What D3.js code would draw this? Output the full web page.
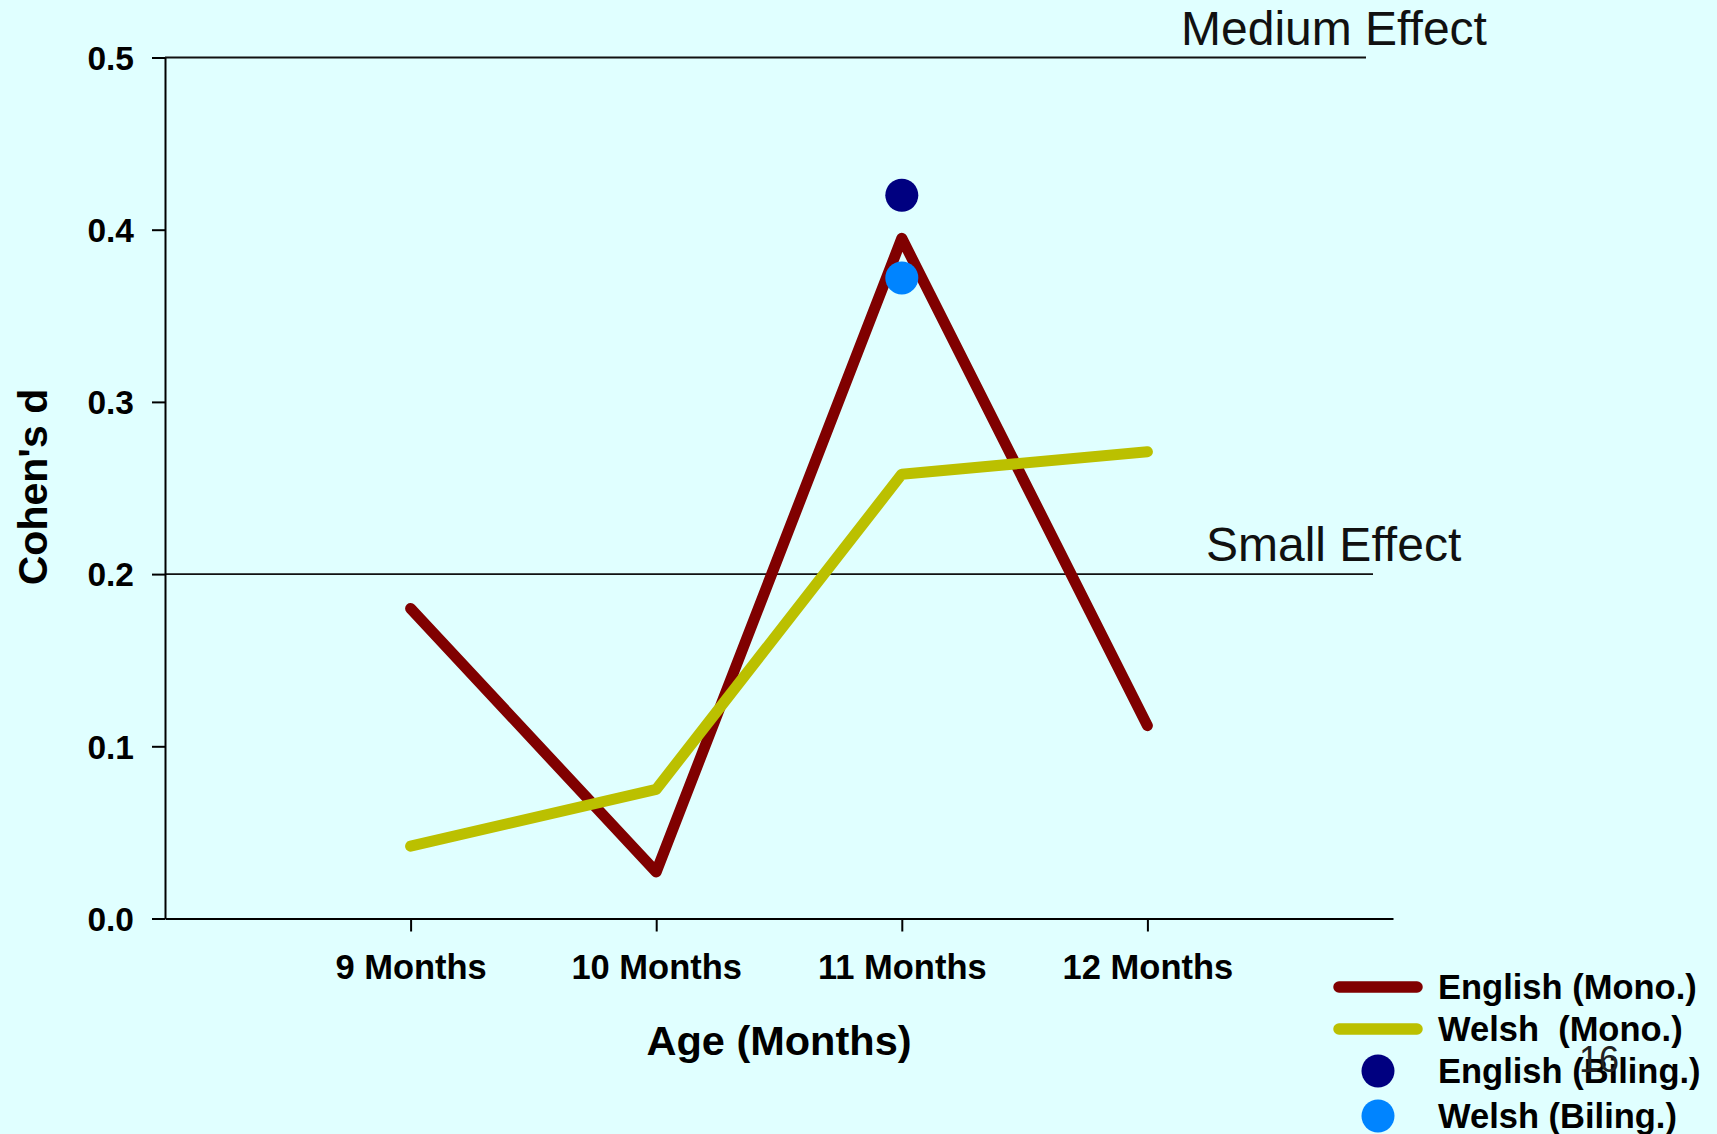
<!DOCTYPE html>
<html>
<head>
<meta charset="utf-8">
<script src="https://cdn.jsdelivr.net/npm/d3@7"></script>
<style>
  html, body { margin: 0; padding: 0; background: #E0FFFF; }
  svg { display: block; font-family: "Liberation Sans", Arial, Helvetica, sans-serif; }
  text { white-space: pre; }
</style>
</head>
<body>
<svg id="chart" width="1717" height="1134"></svg>
<script>
// Age groups on the x axis
const months = ["9 Months", "10 Months", "11 Months", "12 Months"];
const monthNumbers = [9, 10, 11, 12];

// Cohen's d per age group
const englishMono = [0.180, 0.027, 0.395, 0.112];
const welshMono = [0.042, 0.075, 0.258, 0.271];

// Bilingual groups were only measured at 11 months
const englishBilingMonths = [11];
const englishBiling = [0.420];
const welshBilingMonths = [11];
const welshBiling = [0.372];

// Conventional effect-size thresholds
const thresholdLabels = ["Medium Effect", "Small Effect"];
const thresholdValues = [0.5, 0.2];

const yTicks = [0.0, 0.1, 0.2, 0.3, 0.4, 0.5];

const legendLabels = ["English (Mono.)", "Welsh  (Mono.)", "English (Biling.)", "Welsh (Biling.)"];

const colors = {
  englishMono: "#800000",
  welshMono: "#BBC000",
  englishBiling: "#000080",
  welshBiling: "#0084FF"
};

const svg = d3.select("#chart");

svg.append("rect").attr("width", 1717).attr("height", 1134).attr("fill", "#E0FFFF");

const x = d3.scaleLinear().domain([8, 13]).range([165, 1393]);
const y = d3.scaleLinear().domain([0, 0.5]).range([918.5, 57.5]);

// Threshold reference lines and their labels
const thresholdEnds = [1366, 1373];
const thresholdLabelX = [1181, 1206];
const thresholdLabelDy = [-12.5, -13];
thresholdValues.forEach((v, i) => {
  svg.append("line")
    .attr("x1", x(8)).attr("x2", thresholdEnds[i])
    .attr("y1", y(v)).attr("y2", y(v))
    .attr("stroke", "#111").attr("stroke-width", 1.8);
  svg.append("text")
    .attr("x", thresholdLabelX[i])
    .attr("y", y(v) + thresholdLabelDy[i])
    .attr("font-size", 48)
    .attr("fill", "#111")
    .text(thresholdLabels[i]);
});

// Y axis
const yAxis = svg.append("g")
  .attr("transform", `translate(${x(8)},0)`)
  .call(d3.axisLeft(y).tickValues(yTicks).tickFormat(d3.format(".1f"))
    .tickSize(13).tickSizeOuter(0).tickPadding(18));
yAxis.select(".domain").attr("stroke", "#000").attr("stroke-width", 2);
yAxis.selectAll(".tick line").attr("stroke", "#000").attr("stroke-width", 2);
yAxis.selectAll(".tick text")
  .attr("font-family", "'Liberation Sans', Arial, sans-serif")
  .attr("font-size", 33.5).attr("font-weight", "bold").attr("fill", "#000")
  .attr("dy", "0.35em");

// X axis
const xAxis = svg.append("g")
  .attr("transform", `translate(0,${y(0)})`)
  .call(d3.axisBottom(x).tickValues(monthNumbers).tickFormat((d, i) => months[i])
    .tickSize(13).tickSizeOuter(0));
xAxis.select(".domain").attr("stroke", "#000").attr("stroke-width", 2);
xAxis.selectAll(".tick line").attr("stroke", "#000").attr("stroke-width", 2);
xAxis.selectAll(".tick text")
  .attr("font-family", "'Liberation Sans', Arial, sans-serif")
  .attr("font-size", 34.5).attr("font-weight", "bold").attr("fill", "#000")
  .attr("y", 60.5).attr("dy", 0);

// Axis titles
svg.append("text")
  .attr("x", 779).attr("y", 1055)
  .attr("text-anchor", "middle")
  .attr("font-size", 41.5).attr("font-weight", "bold")
  .text("Age (Months)");

svg.append("text")
  .attr("transform", "translate(46.5,487) rotate(-90)")
  .attr("text-anchor", "middle")
  .attr("font-size", 41).attr("font-weight", "bold")
  .text("Cohen's d");

// Monolingual series lines
const line = d3.line().x((d, i) => x(monthNumbers[i])).y(d => y(d));

svg.append("path")
  .datum(englishMono)
  .attr("d", line)
  .attr("fill", "none")
  .attr("stroke", colors.englishMono)
  .attr("stroke-width", 11)
  .attr("stroke-linejoin", "round")
  .attr("stroke-linecap", "round");

svg.append("path")
  .datum(welshMono)
  .attr("d", line)
  .attr("fill", "none")
  .attr("stroke", colors.welshMono)
  .attr("stroke-width", 11)
  .attr("stroke-linejoin", "round")
  .attr("stroke-linecap", "round");

// Bilingual points
svg.selectAll("circle.english-biling")
  .data(englishBiling)
  .join("circle")
  .attr("class", "english-biling")
  .attr("cx", (d, i) => x(englishBilingMonths[i]))
  .attr("cy", d => y(d))
  .attr("r", 16.5)
  .attr("fill", colors.englishBiling);

svg.selectAll("circle.welsh-biling")
  .data(welshBiling)
  .join("circle")
  .attr("class", "welsh-biling")
  .attr("cx", (d, i) => x(welshBilingMonths[i]))
  .attr("cy", d => y(d))
  .attr("r", 16.5)
  .attr("fill", colors.welshBiling);

// Legend
const legend = svg.append("g");
const legendRowY = [987, 1029, 1071, 1116];
const legendKinds = ["line", "line", "dot", "dot"];
const legendColors = [colors.englishMono, colors.welshMono, colors.englishBiling, colors.welshBiling];
legendLabels.forEach((label, i) => {
  if (legendKinds[i] === "line") {
    legend.append("line")
      .attr("x1", 1339).attr("x2", 1417)
      .attr("y1", legendRowY[i]).attr("y2", legendRowY[i])
      .attr("stroke", legendColors[i]).attr("stroke-width", 11.5)
      .attr("stroke-linecap", "round");
  } else {
    legend.append("circle")
      .attr("cx", 1378).attr("cy", legendRowY[i]).attr("r", 16.5)
      .attr("fill", legendColors[i]);
  }
  legend.append("text")
    .attr("x", 1438).attr("y", legendRowY[i] + 11.5)
    .attr("font-size", 34.5).attr("font-weight", "bold")
    .text(label);
});

// Slide number
svg.append("text")
  .attr("x", 1579).attr("y", 1072)
  .attr("font-size", 36).attr("fill", "#222")
  .text("16");
</script>
</body>
</html>
